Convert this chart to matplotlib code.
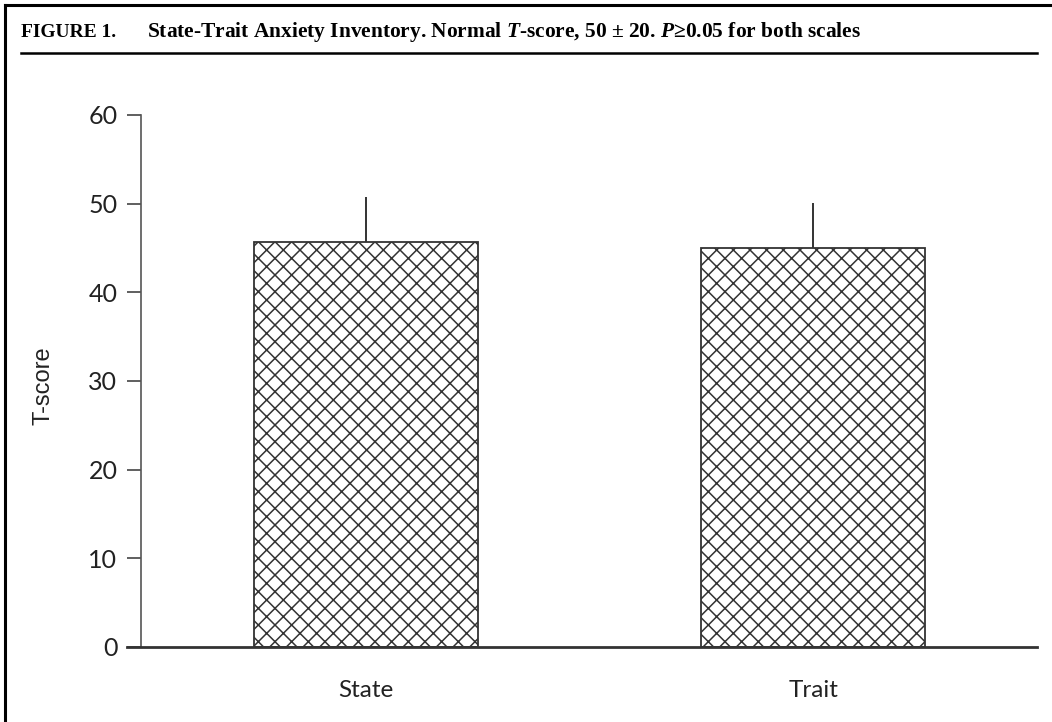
import matplotlib
matplotlib.use("Agg")
import matplotlib.pyplot as plt
from matplotlib.lines import Line2D

categories = ["State", "Trait"]
means = [45.7, 45.0]
sds = [5.0, 5.05]
yticks = [0, 10, 20, 30, 40, 50, 60]

plt.rcParams['mathtext.fontset'] = 'custom'
plt.rcParams['mathtext.rm'] = 'Liberation Serif:bold'
plt.rcParams['mathtext.it'] = 'Liberation Serif:italic:bold'
plt.rcParams['mathtext.bf'] = 'Liberation Serif:bold'
plt.rcParams['hatch.linewidth'] = 1.1
plt.rcParams['hatch.color'] = '#222222'

W, H = 1052, 722
fig = plt.figure(figsize=(W/100, H/100), dpi=100)

# frame lines (left and top)
fig.add_artist(Line2D([5/W, 5/W], [0, 1-5/H], transform=fig.transFigure, color='black', lw=2.2))
fig.add_artist(Line2D([5/W, 1], [1-5/H, 1-5/H], transform=fig.transFigure, color='black', lw=2.2))
# rule under title
fig.add_artist(Line2D([21/W, 1037/W], [1-52.5/H, 1-52.5/H], transform=fig.transFigure, color='black', lw=1.8))

fig.text(21/W, 1-37/H, "FIGURE 1.", fontfamily='Liberation Serif', fontweight='bold', fontsize=14, va='baseline', ha='left')
fig.text(147/W, 1-37/H, r"State-Trait Anxiety Inventory. Normal $\mathit{T}$-score, 50 ± 20. $\mathit{P}$≥0.05 for both scales",
         fontfamily='Liberation Serif', fontweight='bold', fontsize=15.4, va='baseline', ha='left')

left, right = 127/W, 1037/W
bottom, top = 1-647/H, 1-115/H
ax = fig.add_axes([left, bottom, right-left, top-bottom])

x = list(range(len(categories)))
ax.bar(x, means, width=0.5, color='white', edgecolor='#333333', linewidth=1.3, hatch='xx', zorder=2)
ax.errorbar(x, means, yerr=[[0]*len(sds), sds], fmt='none', ecolor='#111111', elinewidth=1.2, capsize=0, zorder=1)

ax.set_xlim(-0.535, 1.501)
ax.set_ylim(0, 60)
ax.set_yticks(yticks)
ax.set_xticks(x)
ax.set_xticklabels(categories)

font = 'Lato'
ax.tick_params(axis='y', length=10, width=1.2, color='#444444', pad=7,
               labelsize=18, labelcolor='#222222', labelfontfamily=font)
ax.tick_params(axis='x', length=0, pad=24, labelsize=17.5, labelcolor='#222222', labelfontfamily=font)

for s in ['top', 'right']:
    ax.spines[s].set_visible(False)
ax.spines['left'].set_position(('axes', 14/910))
ax.spines['left'].set_color('#555555')
ax.spines['left'].set_linewidth(1.2)
ax.spines['bottom'].set_color('#333333')
ax.spines['bottom'].set_linewidth(2.0)

ax.set_ylabel("T-score", fontfamily='Liberation Sans', fontsize=17, color='#222222')
ax.yaxis.set_label_coords(-73/910, (647-386)/532)

fig.savefig("out.png", dpi=100)
